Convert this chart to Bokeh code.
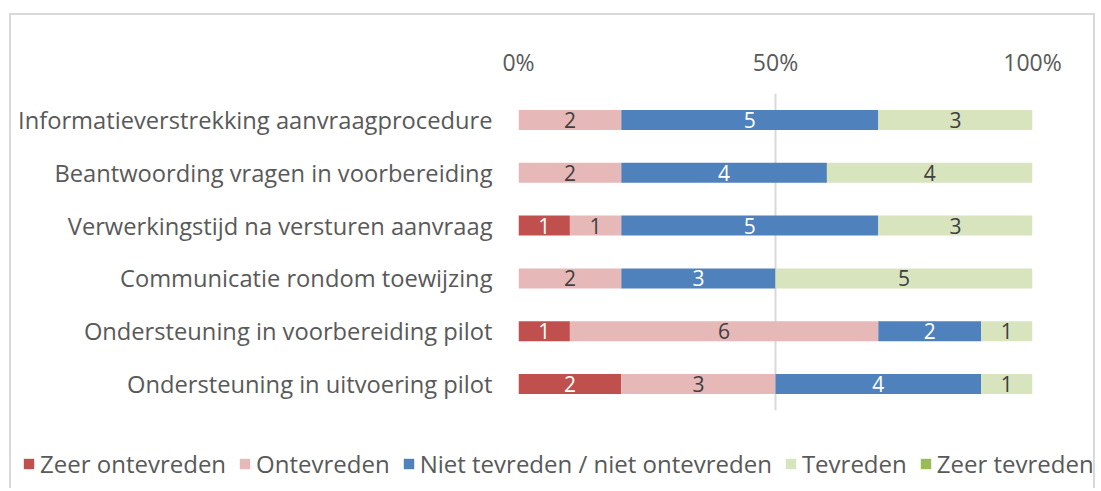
from bokeh.plotting import figure
from bokeh.models import ColumnDataSource, Legend, LegendItem, FixedTicker, NumeralTickFormatter, Range1d
from bokeh.core.properties import value
from bokeh.embed import file_html
from bokeh.resources import INLINE

categories = [
    "Informatieverstrekking aanvraagprocedure",
    "Beantwoording vragen in voorbereiding",
    "Verwerkingstijd na versturen aanvraag",
    "Communicatie rondom toewijzing",
    "Ondersteuning in voorbereiding pilot",
    "Ondersteuning in uitvoering pilot",
]
series = ["Zeer ontevreden", "Ontevreden", "Niet tevreden / niet ontevreden", "Tevreden", "Zeer tevreden"]
zeer_ontevreden = [0, 0, 1, 0, 1, 2]
ontevreden = [2, 2, 1, 2, 6, 3]
neutraal = [5, 4, 5, 3, 2, 4]
tevreden = [3, 4, 3, 5, 1, 1]
zeer_tevreden = [0, 0, 0, 0, 0, 0]
colors = ["#C0504D", "#E6B9B8", "#4F81BD", "#D7E4BD", "#9BBB59"]
label_colors = ["#FFFFFF", "#404040", "#FFFFFF", "#404040", "#404040"]
tick_values = [0, 0.5, 1]

values = [zeer_ontevreden, ontevreden, neutraal, tevreden, zeer_tevreden]
totals = [sum(v[i] for v in values) for i in range(len(categories))]
keys = ["s%d" % k for k in range(len(series))]
data = {"cat": categories}
for k, v in zip(keys, values):
    data[k] = [x / t for x, t in zip(v, totals)]
src = ColumnDataSource(data)

FONT = "Open Sans"
GRAY = "#595959"
BORDER = "2px solid #D9D9D9"
W = 1086

p = figure(width=W, height=430, y_range=list(reversed(categories)),
           x_range=Range1d(0, 1), x_axis_location="above",
           output_backend="svg", toolbar_location=None,
           min_border_left=507, min_border_right=65, min_border_top=78, min_border_bottom=35)
p.outline_line_color = None
p.styles = {"margin-top": "13px", "margin-left": "9px",
            "border-top": BORDER, "border-left": BORDER, "border-right": BORDER}

p.hbar_stack(keys, y="cat", height=0.38, color=colors, source=src, line_color=None)

# value labels
for i, v in enumerate(values):
    xs, ys, ts = [], [], []
    for j in range(len(categories)):
        if v[j] > 0:
            left = sum(values[k][j] for k in range(i)) / totals[j]
            xs.append(left + v[j] / totals[j] / 2)
            ys.append(categories[j])
            ts.append(str(v[j]))
    if xs:
        p.text(x=xs, y=ys, text=ts, text_align="center", text_baseline="middle",
               text_font=value(FONT), text_font_size="21px", text_color=label_colors[i])

p.xaxis.ticker = FixedTicker(ticks=tick_values)
p.xaxis.formatter = NumeralTickFormatter(format="0%")
for ax in (p.xaxis, p.yaxis):
    ax.axis_line_color = None
    ax.major_tick_line_color = None
    ax.minor_tick_line_color = None
    ax.major_label_text_font = FONT
    ax.major_label_text_color = GRAY
p.xaxis.major_label_text_font_size = "23px"
p.yaxis.major_label_text_font_size = "23.7px"
p.xaxis.major_label_standoff = 10
p.yaxis.major_label_standoff = 20

p.ygrid.grid_line_color = None
p.xgrid.ticker = FixedTicker(ticks=tick_values)
p.xgrid.grid_line_color = "#D9D9D9"
p.xgrid.grid_line_width = 2

# legend strip (separate root so its frame spans the full width)
lf = figure(width=W, height=45, y_range=list(reversed(categories)), x_range=Range1d(0, 1),
            x_axis_location=None, y_axis_location=None,
            output_backend="svg", toolbar_location=None, min_border=0)
lf.grid.visible = False
lf.outline_line_color = None
lf.styles = {"margin-left": "9px", "border-left": BORDER, "border-right": BORDER}
lrs = lf.hbar_stack(keys, y="cat", height=0.38, color=colors, source=src, line_color=None)
for r in lrs:
    r.visible = False
items = [LegendItem(label=s, renderers=[r]) for s, r in zip(series, lrs)]
legend = Legend(items=items, orientation="horizontal", location=(11, 8),
                label_text_font=FONT, label_text_font_size="24px", label_text_color=GRAY,
                glyph_width=13, glyph_height=13, label_standoff=5, spacing=12,
                padding=0, margin=0, border_line_color=None, background_fill_alpha=0,
                inactive_fill_alpha=0)
lf.add_layout(legend)

open("out.html", "w").write(file_html([p, lf], INLINE))
